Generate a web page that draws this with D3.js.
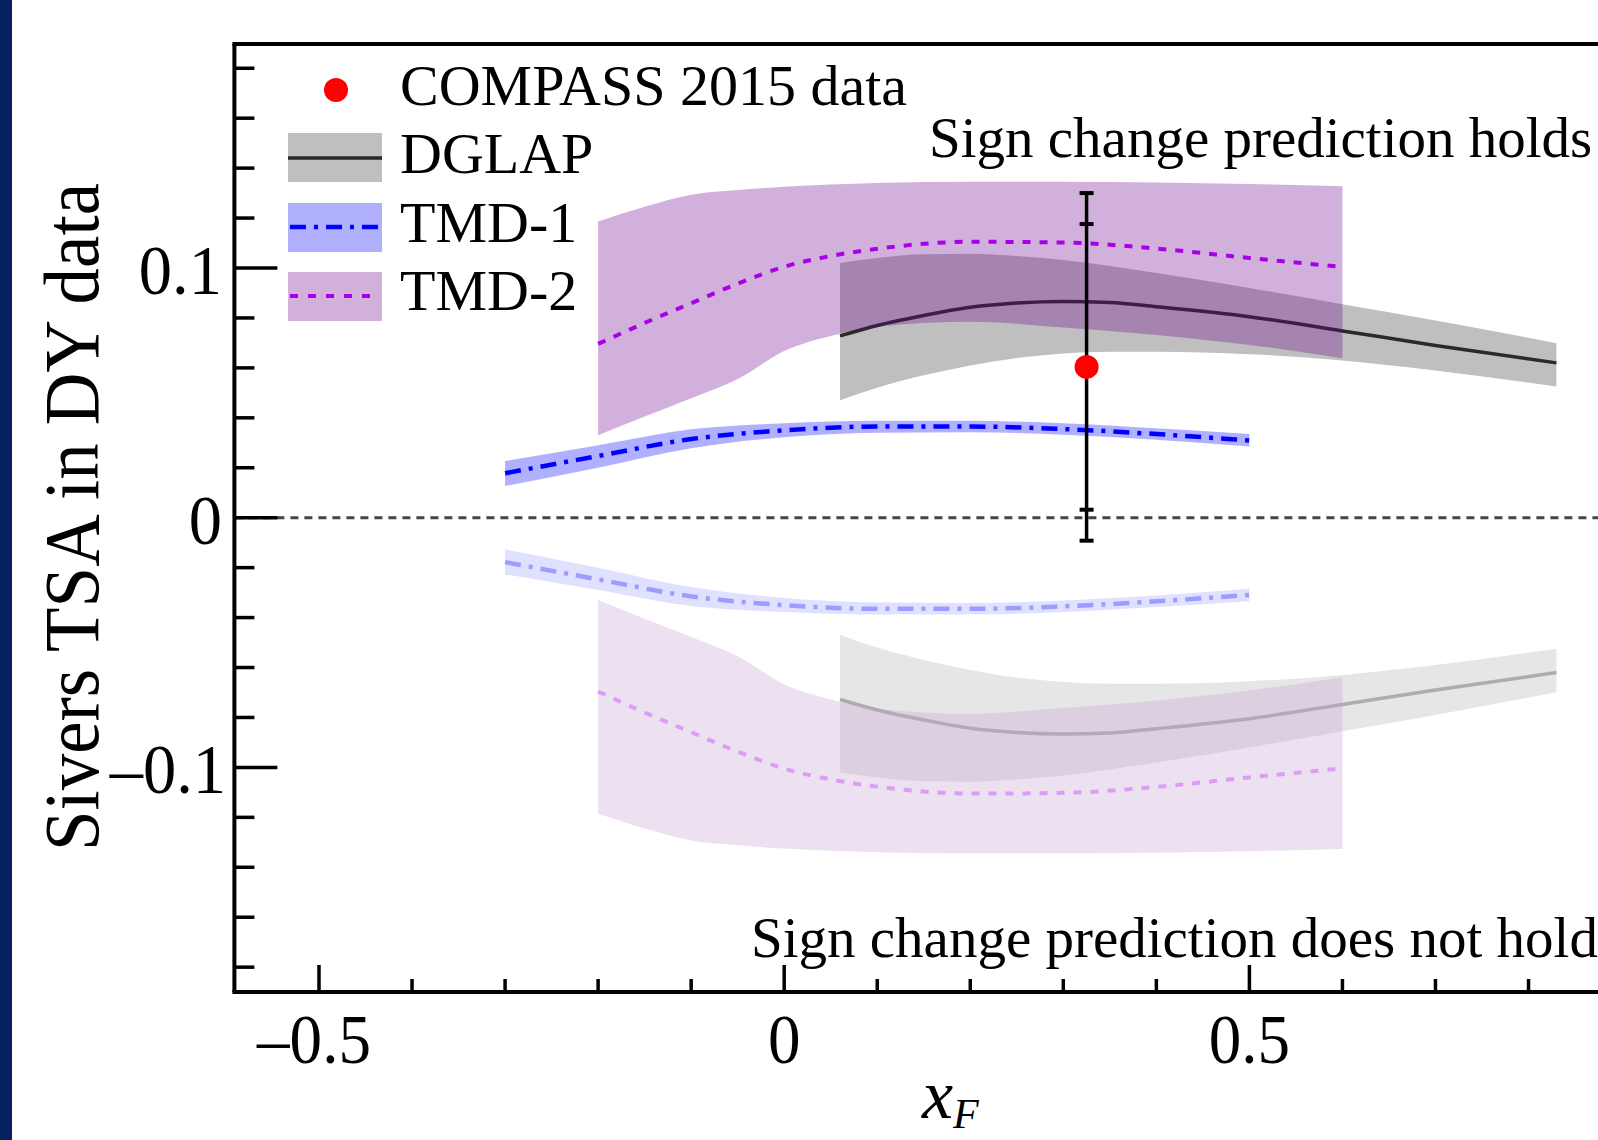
<!DOCTYPE html>
<html>
<head>
<meta charset="utf-8">
<script src="https://cdn.jsdelivr.net/npm/d3@7"></script>
<style>
  body { margin: 0; background: #fff; }
  svg { display: block; }
</style>
</head>
<body>
<script>
// DGLAP band + central curve
const dglapX   = [0.06, 0.1, 0.15, 0.2, 0.25, 0.3, 0.35, 0.4, 0.5, 0.6, 0.7, 0.83];
const dglapMid = [0.0728, 0.077, 0.081, 0.0843, 0.086, 0.0866, 0.0862, 0.0845, 0.0805, 0.0748, 0.069, 0.062];
const dglapHi  = [0.102, 0.104, 0.1055, 0.1057, 0.1048, 0.1032, 0.1008, 0.098, 0.092, 0.0855, 0.079, 0.0699];
const dglapLo  = [0.047, 0.052, 0.057, 0.061, 0.064, 0.0658, 0.0665, 0.0665, 0.0655, 0.063, 0.059, 0.0525];

// TMD-1
const tmd1X   = [-0.3, -0.2, -0.1, 0, 0.1, 0.2, 0.3, 0.4, 0.5];
const tmd1Mid = [0.0178, 0.0247, 0.0315, 0.035, 0.0365, 0.0365, 0.0355, 0.0335, 0.0309];
const tmd1Hi  = [0.0227, 0.029, 0.0354, 0.0378, 0.0388, 0.0388, 0.0378, 0.0358, 0.0335];
const tmd1Lo  = [0.0127, 0.020, 0.0278, 0.0322, 0.034, 0.0342, 0.0332, 0.0312, 0.0285];

// TMD-2
const tmd2X   = [-0.2, -0.15, -0.1, -0.05, 0, 0.05, 0.1, 0.2, 0.3, 0.4, 0.5, 0.6];
const tmd2Mid = [0.0696, 0.078, 0.0859, 0.0937, 0.1005, 0.1048, 0.1077, 0.1105, 0.1102, 0.1078, 0.104, 0.1004];
const tmd2Hi  = [0.1186, 0.1245, 0.1293, 0.1312, 0.1325, 0.1334, 0.134, 0.1345, 0.1345, 0.1342, 0.1336, 0.1327];
const tmd2Lo  = [0.033, 0.0405, 0.0478, 0.0555, 0.0668, 0.0728, 0.0765, 0.0785, 0.0762, 0.0732, 0.0692, 0.0639];

// COMPASS 2015 point: x, value, stat error, total error
const compassX = [0.325];
const compassY = [0.0604];
const compassStat = [0.0572];
const compassTot = [0.0696];

const xMajor = [-0.5, 0, 0.5];
const xMajorLabels = ["\u20130.5", "0", "0.5"];
const xMinor = [-0.4, -0.3, -0.2, -0.1, 0.1, 0.2, 0.3, 0.4, 0.6, 0.7, 0.8];
const yMajor = [-0.1, 0, 0.1];
const yMajorLabels = ["\u20130.1", "0", "0.1"];
const yMinor = [-0.18, -0.16, -0.14, -0.12, -0.08, -0.06, -0.04, -0.02, 0.02, 0.04, 0.06, 0.08, 0.12, 0.14, 0.16, 0.18];

const legendNames = ["COMPASS 2015 data", "DGLAP", "TMD-1", "TMD-2"];

const W = 1598, H = 1140;
const plotLeft = 234.4, plotTop = 44, plotBottom = 992;
const serif = "'Liberation Serif', 'Times New Roman', serif";

let svg = d3.select("body").append("svg")
    .attr("width", W)
    .attr("height", H)
    .style("background", "#fff");

let x = d3.scaleLinear().domain([-0.5, 0.5]).range([319, 1249.4]);
let y = d3.scaleLinear().domain([-0.1, 0.1]).range([767.4, 268]);

// blue strip on the left side of the slide
svg.append("rect").attr("x", 0).attr("y", 0).attr("width", 12).attr("height", H).attr("fill", "#05215f");

let zip = (xs, a, b) => xs.map((v, i) => ({x: v, lo: a[i], hi: b ? b[i] : a[i]}));

let bandArea = sign => d3.area()
    .x(d => x(d.x))
    .y0(d => y(sign * d.lo))
    .y1(d => y(sign * d.hi))
    .curve(d3.curveMonotoneX);

let midLine = sign => d3.line()
    .x(d => x(d.x))
    .y(d => y(sign * d.lo))
    .curve(d3.curveMonotoneX);

// draws all three predictions; sign=-1 gives the faded mirrored set
function drawModels(g, sign) {
    g.append("path").datum(zip(dglapX, dglapLo, dglapHi))
        .attr("d", bandArea(sign)).attr("fill", "#000").attr("fill-opacity", 0.25);
    g.append("path").datum(zip(dglapX, dglapMid))
        .attr("d", midLine(sign)).attr("fill", "none").attr("stroke", "#2a2a2a").attr("stroke-width", 3.5);

    g.append("path").datum(zip(tmd2X, tmd2Lo, tmd2Hi))
        .attr("d", bandArea(sign)).attr("fill", "rgb(105,2,143)").attr("fill-opacity", 0.31);
    g.append("path").datum(zip(tmd2X, tmd2Mid))
        .attr("d", midLine(sign)).attr("fill", "none").attr("stroke", "#a800e8")
        .attr("stroke-width", 4).attr("stroke-dasharray", "8,9");

    g.append("path").datum(zip(tmd1X, tmd1Lo, tmd1Hi))
        .attr("d", bandArea(sign)).attr("fill", "#0000ff").attr("fill-opacity", 0.31);
    g.append("path").datum(zip(tmd1X, tmd1Mid))
        .attr("d", midLine(sign)).attr("fill", "none").attr("stroke", "#0000ff")
        .attr("stroke-width", 4.5).attr("stroke-dasharray", "16,8,4,8");
}

drawModels(svg.append("g").attr("opacity", 0.38), -1);
drawModels(svg.append("g"), 1);

// zero line
svg.append("line")
    .attr("x1", plotLeft).attr("x2", W)
    .attr("y1", y(0)).attr("y2", y(0))
    .attr("stroke", "#444").attr("stroke-width", 3).attr("stroke-dasharray", "8,6");

// COMPASS point with stat and total error caps
let pts = compassX.map((v, i) => ({x: v, y: compassY[i], s: compassStat[i], t: compassTot[i]}));
let pt = svg.append("g").selectAll("g").data(pts).enter().append("g");
pt.append("line")
    .attr("x1", d => x(d.x)).attr("x2", d => x(d.x))
    .attr("y1", d => y(d.y + d.t)).attr("y2", d => y(d.y - d.t))
    .attr("stroke", "#000").attr("stroke-width", 3.5);
pt.selectAll(".cap")
    .data(d => [d.y + d.t, d.y + d.s, d.y - d.s, d.y - d.t].map(v => ({x: d.x, v: v})))
    .enter().append("line").attr("class", "cap")
    .attr("x1", d => x(d.x) - 7).attr("x2", d => x(d.x) + 7)
    .attr("y1", d => y(d.v)).attr("y2", d => y(d.v))
    .attr("stroke", "#000").attr("stroke-width", 4);
pt.append("circle")
    .attr("cx", d => x(d.x)).attr("cy", d => y(d.y)).attr("r", 12)
    .attr("fill", "#ff0000");

// frame
let frame = svg.append("g").attr("stroke", "#000").attr("stroke-width", 4);
frame.append("line").attr("x1", plotLeft - 2).attr("x2", W).attr("y1", plotTop).attr("y2", plotTop);
frame.append("line").attr("x1", plotLeft).attr("x2", plotLeft).attr("y1", plotTop).attr("y2", plotBottom);
frame.append("line").attr("x1", plotLeft - 2).attr("x2", W).attr("y1", plotBottom).attr("y2", plotBottom);

// ticks, pointing inwards
let ticks = svg.append("g").attr("stroke", "#000").attr("stroke-width", 3.5);
ticks.selectAll(".ym").data(yMajor).enter().append("line")
    .attr("x1", plotLeft).attr("x2", plotLeft + 43).attr("y1", d => y(d)).attr("y2", d => y(d));
ticks.selectAll(".yn").data(yMinor).enter().append("line")
    .attr("x1", plotLeft).attr("x2", plotLeft + 20).attr("y1", d => y(d)).attr("y2", d => y(d));
ticks.selectAll(".xm").data(xMajor).enter().append("line")
    .attr("x1", d => x(d)).attr("x2", d => x(d)).attr("y1", plotBottom).attr("y2", plotBottom - 27);
ticks.selectAll(".xn").data(xMinor).enter().append("line")
    .attr("x1", d => x(d)).attr("x2", d => x(d)).attr("y1", plotBottom).attr("y2", plotBottom - 13);

// tick labels (slightly narrow, like the original typeface)
svg.selectAll(".ylab").data(yMajor).enter().append("text")
    .attr("transform", d => `translate(${d < 0 ? 226 : 222},${y(d) + 26}) scale(0.95,1)`)
    .attr("text-anchor", "end")
    .style("font-family", serif).style("font-size", "70px")
    .text((d, i) => yMajorLabels[i]);
svg.selectAll(".xlab").data(xMajor).enter().append("text")
    .attr("transform", d => `translate(${x(d) - (d < 0 ? 5 : 0)},1063) scale(0.93,1)`)
    .attr("text-anchor", "middle")
    .style("font-family", serif).style("font-size", "70px")
    .text((d, i) => xMajorLabels[i]);

// axis titles
svg.append("text")
    .attr("transform", "translate(98,517) rotate(-90)")
    .attr("text-anchor", "middle")
    .attr("textLength", 668).attr("lengthAdjust", "spacingAndGlyphs")
    .style("font-family", serif).style("font-size", "79px")
    .text("Sivers TSA in DY data");

let xt = svg.append("text").attr("x", 922).attr("y", 1118)
    .style("font-family", serif).style("font-style", "italic").style("font-size", "70px");
xt.append("tspan").text("x");
xt.append("tspan").attr("dy", 10).style("font-size", "42px").text("F");

// region notes
svg.append("text").attr("x", 929).attr("y", 157)
    .style("font-family", serif).style("font-size", "57px")
    .text("Sign change prediction holds");
svg.append("text").attr("x", 751).attr("y", 957)
    .style("font-family", serif).style("font-size", "57px")
    .text("Sign change prediction does not hold");

// legend
let lg = svg.append("g");
let rowY = [90, 158, 227, 296];
lg.append("circle").attr("cx", 336).attr("cy", rowY[0]).attr("r", 12).attr("fill", "#ff0000");

lg.append("rect").attr("x", 288).attr("y", rowY[1] - 25).attr("width", 94).attr("height", 49)
    .attr("fill", "#000").attr("fill-opacity", 0.25);
lg.append("line").attr("x1", 288).attr("x2", 382).attr("y1", rowY[1]).attr("y2", rowY[1])
    .attr("stroke", "#2a2a2a").attr("stroke-width", 3.5);

lg.append("rect").attr("x", 288).attr("y", rowY[2] - 24).attr("width", 94).attr("height", 49)
    .attr("fill", "#0000ff").attr("fill-opacity", 0.31);
lg.append("line").attr("x1", 290).attr("x2", 380).attr("y1", rowY[2]).attr("y2", rowY[2])
    .attr("stroke", "#0000ff").attr("stroke-width", 4.5).attr("stroke-dasharray", "16,8,4,8");

lg.append("rect").attr("x", 288).attr("y", rowY[3] - 24).attr("width", 94).attr("height", 49)
    .attr("fill", "rgb(105,2,143)").attr("fill-opacity", 0.31);
lg.append("line").attr("x1", 290).attr("x2", 380).attr("y1", rowY[3]).attr("y2", rowY[3])
    .attr("stroke", "#a800e8").attr("stroke-width", 4).attr("stroke-dasharray", "8,10");

lg.selectAll(".ltxt").data(legendNames).enter().append("text")
    .attr("x", 400).attr("y", (d, i) => [105, 173, 242, 310][i])
    .style("font-family", serif).style("font-size", "58px")
    .text(d => d);
</script>
</body>
</html>
